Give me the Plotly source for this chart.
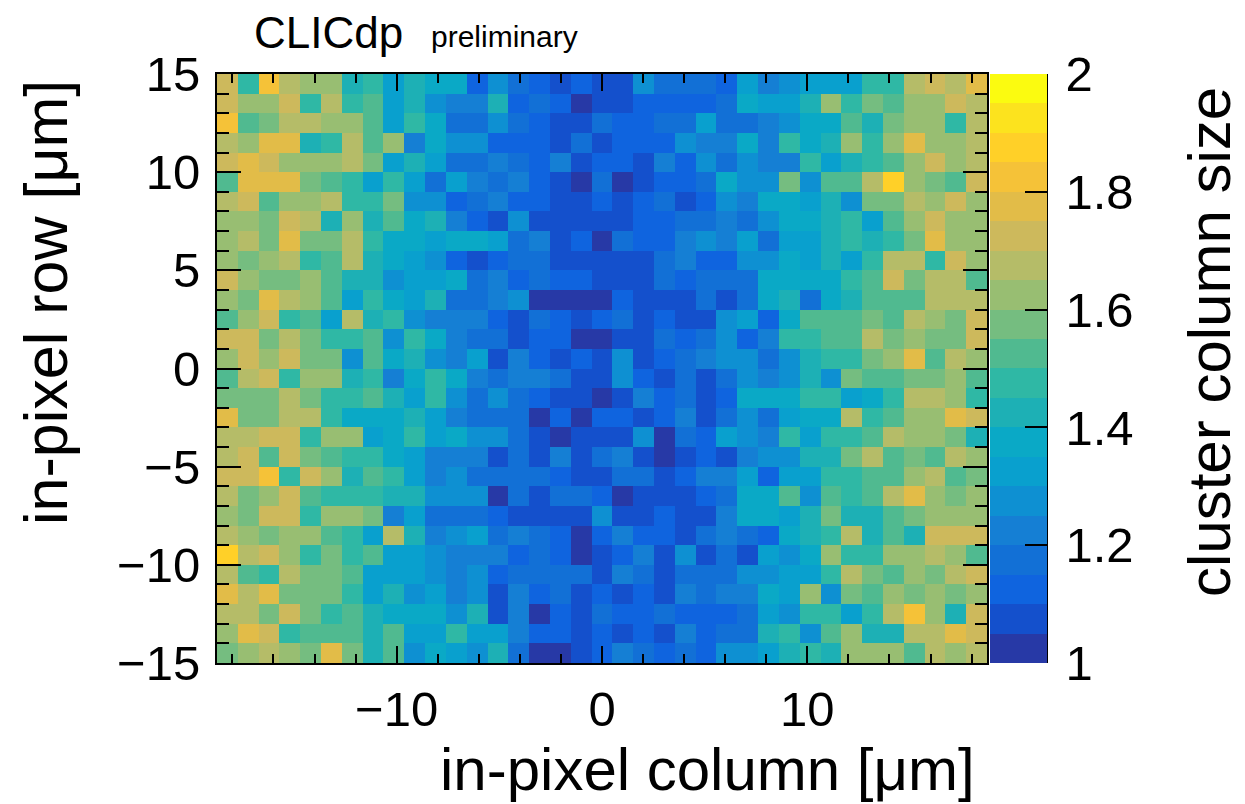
import plotly.graph_objects as go

# Colour-class index (0..19) of each cell, top row first; 37 columns, 30 rows
row_levels = [
 [14,9,16,13,12,12,8,9,6,8,7,7,2,5,3,2,1,2,1, 1,5,3,3,3,2,6,4,5,6,6,6,9,9,13,14,13,15],
 [14,12,12,14,9,13,9,10,6,8,5,4,4,8,2,3,2,0,1, 1,2,2,2,2,3,7,6,6,8,12,9,11,10,12,12,14,13],
 [16,10,11,13,13,12,12,10,6,9,7,3,3,5,3,2,1,1,3, 2,2,3,3,6,3,3,4,5,7,7,10,8,11,12,12,9,13],
 [13,12,15,15,8,9,13,10,12,4,7,5,5,2,2,2,1,3,1, 2,2,2,5,4,4,7,4,9,7,8,12,9,12,15,12,12,13],
 [14,15,14,12,12,12,13,11,6,8,6,3,3,4,3,2,4,1,2, 2,1,4,2,5,3,5,4,4,9,6,8,9,10,12,14,12,13],
 [10,15,15,15,11,10,9,6,9,6,3,6,4,3,4,2,1,0,3, 0,1,2,2,3,7,5,5,11,5,10,10,13,17,12,11,10,14],
 [13,14,10,12,12,13,9,9,11,5,5,2,3,4,2,2,1,1,2, 1,2,3,1,2,5,4,7,7,6,8,5,11,11,13,12,14,12],
 [12,12,11,14,13,8,12,8,10,7,8,4,2,1,5,1,1,1,1, 1,2,2,3,3,4,3,5,7,7,8,9,6,10,12,14,12,12],
 [12,13,11,15,11,11,13,9,7,7,6,7,7,6,3,4,1,2,0, 3,2,2,4,5,4,6,3,6,6,8,9,8,9,11,15,12,12],
 [12,11,12,13,9,10,13,8,7,6,5,2,1,2,3,3,1,1,1, 1,1,3,4,2,2,5,5,7,6,8,6,9,13,13,9,14,12],
 [14,12,11,11,12,10,8,8,5,6,6,7,3,4,2,3,2,2,1, 1,1,3,2,3,3,3,7,7,7,7,9,10,14,11,13,13,10],
 [12,11,15,13,12,10,6,9,7,6,8,3,3,4,5,0,0,0,0, 2,1,1,1,3,1,3,7,8,3,7,8,10,10,10,13,13,13],
 [10,12,14,9,10,6,13,8,9,5,4,4,4,2,1,3,2,1,2, 3,1,2,1,1,5,6,2,7,10,10,10,11,10,13,12,11,14],
 [14,14,11,13,11,9,9,10,5,9,7,4,3,3,1,2,2,0,0, 1,1,3,2,3,5,2,4,9,9,10,10,13,11,12,11,11,14],
 [12,14,12,14,11,11,5,10,7,8,5,4,6,1,4,2,1,2,1, 5,1,2,3,4,5,5,3,5,8,9,9,11,12,15,10,13,12],
 [10,13,14,9,12,12,8,9,4,7,9,7,4,3,4,4,3,1,1, 5,2,1,3,1,3,5,4,5,8,5,11,10,10,11,11,12,10],
 [11,11,11,13,11,9,9,10,8,6,9,5,3,5,3,2,1,1,0, 1,4,2,3,1,2,7,7,7,9,9,6,7,9,13,13,12,9],
 [15,11,11,13,13,9,7,7,7,8,6,4,3,3,3,0,2,0,2, 2,1,2,4,1,3,5,3,6,7,7,13,9,10,12,12,15,14],
 [13,13,14,14,9,12,12,6,7,9,6,7,5,5,3,1,0,1,1, 1,5,0,3,2,6,5,4,9,6,9,9,10,13,12,12,11,8],
 [13,14,10,14,11,10,9,9,7,6,4,4,4,1,3,1,4,1,3, 4,1,0,1,2,1,4,5,5,8,8,11,13,10,11,10,13,12],
 [14,14,16,9,14,12,8,10,9,6,4,5,3,3,3,3,2,1,1, 3,3,1,2,4,4,6,2,6,6,9,9,10,10,12,13,10,11],
 [13,11,12,14,10,9,9,9,8,8,5,5,5,0,3,1,3,3,2, 0,1,1,1,2,3,7,7,10,5,10,9,10,13,15,12,11,12],
 [12,11,14,14,9,12,12,11,4,6,3,3,3,2,1,1,1,1,5, 1,1,2,1,1,4,7,7,6,8,11,8,8,10,11,12,12,12],
 [13,12,11,12,12,10,9,6,13,8,4,5,6,3,4,3,2,0,2, 4,2,2,1,3,4,3,2,7,8,9,13,8,10,8,14,14,14],
 [17,13,14,12,9,11,9,10,6,6,5,4,4,4,2,3,2,0,1, 2,4,1,5,1,3,1,6,5,7,12,9,9,12,12,13,12,10],
 [13,10,9,13,11,11,10,6,6,6,5,4,5,2,3,3,3,3,1, 4,3,1,3,3,3,5,5,6,6,9,13,11,10,12,11,13,14],
 [15,13,15,11,11,11,9,6,8,5,6,4,5,1,4,2,3,1,2, 1,2,1,4,3,4,4,7,6,12,5,11,10,12,11,12,11,12],
 [13,13,11,14,11,9,10,8,7,7,7,5,8,1,4,0,2,1,3, 2,2,3,2,2,2,3,6,5,9,9,6,9,13,16,12,8,14],
 [12,15,14,9,10,10,10,8,10,6,6,9,6,6,4,2,2,1,2, 1,2,1,4,2,3,3,8,9,5,10,12,8,8,13,13,15,14],
 [11,12,13,12,11,15,11,8,10,5,7,6,5,8,3,0,0,1,2, 4,3,2,3,2,5,5,6,8,9,8,12,12,12,10,13,12,13],
]
palette = ["#2739A6","#1450CC","#0F64DF","#1270D6","#157FD4","#0E90D2","#09A0CE","#0AA9C6",
           "#1DB0B5","#2FB8A5","#50BA90","#75BD80","#98BE72","#B5BC68","#CDB95C","#E2BC48",
           "#F5C238","#FFD028","#FCE31E","#FBFB10"]
x_edges_range = [-18.75, 18.75]
y_edges_range = [-15, 15]
cbar_ticks = [1, 1.2, 1.4, 1.6, 1.8, 2]
cbar_labels = ["1", "1.2", "1.4", "1.6", "1.8", "2"]
x_title = "in-pixel column [μm]"
y_title = "in-pixel row [μm]"
z_title = "cluster column size"

n_rows, n_cols = len(row_levels), len(row_levels[0])
z = [[1.025 + 0.05 * v for v in r] for r in reversed(row_levels)]
dx = (x_edges_range[1] - x_edges_range[0]) / n_cols
dy = (y_edges_range[1] - y_edges_range[0]) / n_rows
xc = [x_edges_range[0] + dx * (i + 0.5) for i in range(n_cols)]
yc = [y_edges_range[0] + dy * (i + 0.5) for i in range(n_rows)]

scale = []
for i, c in enumerate(palette):
    scale.append([i / len(palette), c])
    scale.append([(i + 1) / len(palette), c])

FONT = "Liberation Sans"
TICK_SIZE = 49
W, H = 1245, 804
L, R, T, B = 217, 987, 74, 663
pw, ph = R - L, B - T

fig = go.Figure(go.Heatmap(
    x=xc, y=yc, z=z, zmin=1, zmax=2, colorscale=scale, xgap=0, ygap=0,
    colorbar=dict(
        x=(990 - L) / pw, xanchor="left", xpad=0, ypad=0,
        y=1, yanchor="top", len=1, lenmode="fraction",
        thickness=57, thicknessmode="pixels",
        outlinewidth=0,
        tickmode="array", tickvals=cbar_ticks,
        ticktext=["\u2006" + t for t in cbar_labels],
        ticks="inside", ticklen=22, tickwidth=2, tickcolor="black",
        tickfont=dict(family=FONT, size=TICK_SIZE, color="black"),
    ),
))

axis_common = dict(
    showgrid=False, zeroline=False, showline=True, linecolor="black", linewidth=2,
    mirror="allticks", ticks="inside", tickcolor="black", tickwidth=2,
    tickfont=dict(family=FONT, size=TICK_SIZE, color="black"),
)
fig.update_xaxes(range=x_edges_range, tickmode="array", tickvals=[-10, 0, 10], ticklen=17,
                 ticklabelstandoff=2,
                 minor=dict(ticks="inside", dtick=2, tick0=0, ticklen=9, tickcolor="black", tickwidth=2),
                 **axis_common)
fig.update_yaxes(range=y_edges_range, tickmode="array", tickvals=[-15, -10, -5, 0, 5, 10, 15], ticklen=24,
                 ticklabelstandoff=5,
                 minor=dict(ticks="inside", dtick=1, tick0=0, ticklen=12, tickcolor="black", tickwidth=2),
                 **axis_common)

def label(text, px, py, size, angle=0, xanchor="center"):
    return dict(text=text, x=(px - L) / pw, y=(B - py) / ph, xref="paper", yref="paper",
                xanchor=xanchor, yanchor="middle", showarrow=False, textangle=angle,
                font=dict(family=FONT, size=size, color="black"))

fig.update_layout(
    width=W, height=H, margin=dict(l=L, r=W - R, t=T, b=H - B),
    paper_bgcolor="white", plot_bgcolor="white",
    annotations=[
        label("CLICdp", 252, 33, 44, xanchor="left"),
        label("preliminary", 429, 37, 30, xanchor="left"),
        label(x_title, 707, 769, 60),
        label(y_title, 46, 303, 61, angle=-90),
        label(z_title, 1209, 342, 60, angle=-90),
    ],
    shapes=[dict(type="line", xref="paper", yref="paper", x0=(1047 - L) / pw, x1=(1047 - L) / pw,
                 y0=0, y1=1, line=dict(color="black", width=2))],
)
fig.write_html("out.html", config={"displayModeBar": False},
               post_script="document.body.style.margin='0';")
